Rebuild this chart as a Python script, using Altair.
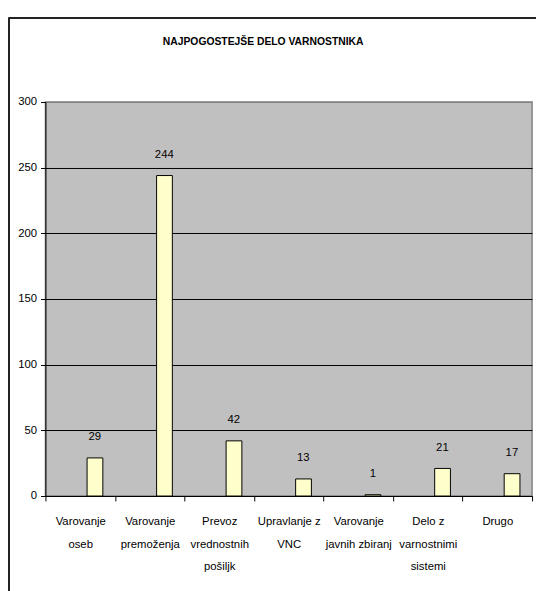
import altair as alt
import pandas as pd

categories = [
    "Varovanje\noseb",
    "Varovanje\npremoženja",
    "Prevoz\nvrednostnih\npošiljk",
    "Upravlanje z\nVNC",
    "Varovanje\njavnih zbiranj",
    "Delo z\nvarnostnimi\nsistemi",
    "Drugo",
]
values = [29, 244, 42, 13, 1, 21, 17]
y_ticks = [0, 50, 100, 150, 200, 250, 300]
title_text = "NAJPOGOSTEJŠE DELO VARNOSTNIKA"

df = pd.DataFrame({"cat": categories, "val": values, "slot": ["b"] * len(values)})

FONT = "Liberation Sans, Arial, sans-serif"

x_enc = alt.X(
    "cat:N",
    sort=categories,
    scale=alt.Scale(paddingInner=0, paddingOuter=0),
    axis=alt.Axis(
        title=None,
        labelAngle=0,
        labelExpr="split(datum.label, '\\n')",
        labelFont=FONT,
        labelFontSize=11.5,
        labelLineHeight=23,
        labelColor="black",
        labelPadding=15,
        tickBand="extent",
        tickSize=5,
        tickColor="black",
        domainColor="black",
        grid=False,
        labelBaseline="top",
    ),
)
y_enc = alt.Y(
    "val:Q",
    scale=alt.Scale(domain=[0, 300], nice=False),
    axis=alt.Axis(
        title=None,
        values=y_ticks,
        labelFont=FONT,
        labelFontSize=11.5,
        labelColor="black",
        tickSize=5,
        tickColor="black",
        domainColor="black",
        labelPadding=4,
        grid=True,
        gridColor=alt.condition(
            "datum.value == 300", alt.value("#808080"), alt.value("black")
        ),
        gridWidth=1,
    ),
)

bars = alt.Chart(df).mark_bar(
    width=16, fill="#FFFFCC", stroke="black", strokeWidth=1
).encode(
    x=x_enc,
    y=y_enc,
    xOffset=alt.XOffset(
        "slot:N",
        scale=alt.Scale(domain=["a", "b"], paddingInner=0, paddingOuter=0.177),
    ),
)

labels = alt.Chart(df).mark_text(
    font=FONT, fontSize=11.5, color="black", dy=-21, baseline="middle"
).encode(
    x=alt.X("cat:N", sort=categories, bandPosition=0.71),
    y=alt.Y("val:Q"),
    text=alt.Text("val:Q"),
)

border_left = alt.Chart(df).mark_rule(color="#222222", strokeWidth=1.5).encode(
    x=alt.value(-37.3), y=alt.value(-85), y2=alt.value(700)
)
border_top = alt.Chart(df).mark_rule(color="#222222", strokeWidth=1.5).encode(
    x=alt.value(-37.3), x2=alt.value(700), y=alt.value(-85)
)

chart = (
    alt.layer(bars, labels, border_left, border_top)
    .properties(
        width=494,
        height=400,
        background="white",
        padding={"left": 38, "top": 91, "right": 4, "bottom": 92},
        autosize=alt.AutoSizeParams(type="none"),
        title=alt.TitleParams(
            text=title_text,
            font=FONT,
            fontSize=10.5,
            fontWeight="bold",
            color="black",
            anchor="middle",
            frame="group",
            dx=-26,
            offset=-30,
        ),
    )
    .configure_view(fill="#C0C0C0", stroke="#808080", strokeWidth=1.5)
)

chart.save("out.html", embed_options={"renderer": "svg", "actions": False})
